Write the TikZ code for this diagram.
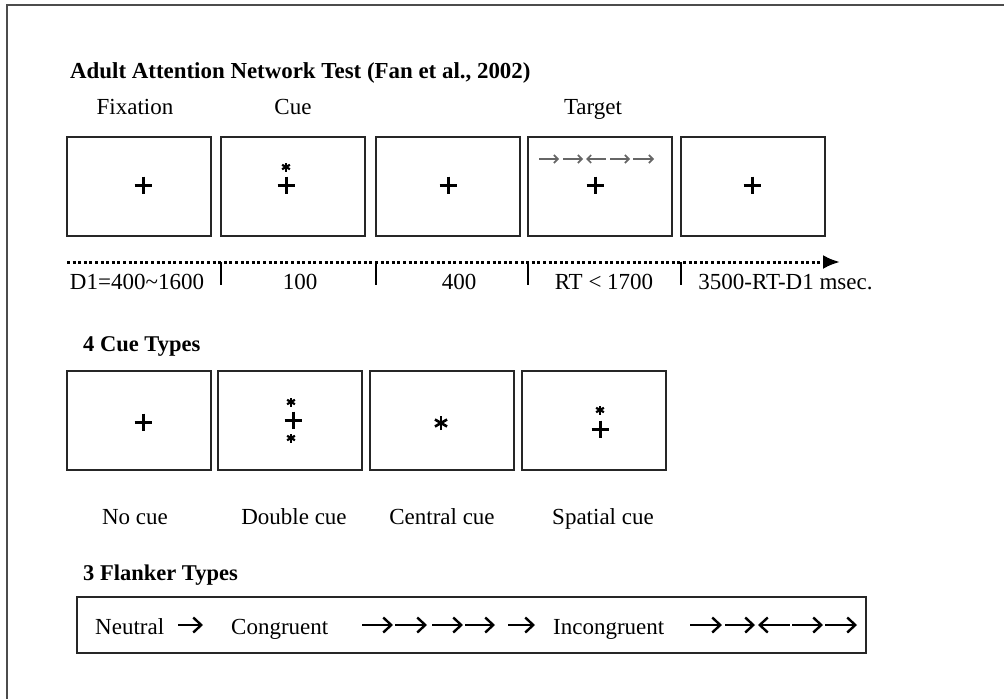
\documentclass[tikz,border=0pt]{standalone}
\usepackage{fontspec}
\setmainfont{Liberation Serif}
\usetikzlibrary{arrows.meta}

\begin{document}
\begin{tikzpicture}[x=1pt,y=-1pt,
    scr/.style={draw=black!85,line width=2.2pt,minimum width=144pt,minimum height=99pt,inner sep=0pt},
    lbl/.style={font=\fontsize{23}{27}\selectfont,inner sep=0pt,anchor=base},
    lblw/.style={font=\fontsize{23}{27}\selectfont,inner sep=0pt,anchor=base west},
    head/.style={font=\bfseries\fontsize{22.5}{27}\selectfont,inner sep=0pt,anchor=base west},
    fl/.style={line width=2.4pt,-{Straight Barb[length=8pt,width=15pt]}},
    sm/.style={black!60,line width=1.6pt,-{Straight Barb[length=4pt,width=8pt]}},
    fix/.pic={\draw[line width=3pt] (-8.5,0) -- (8.5,0) (0,-8.5) -- (0,8.5);},
    star/.pic={\foreach \t in {90,30,150} \draw[line width=2.2pt] (\t:4.5) -- (\t+180:4.5);},
    bigstar/.pic={\foreach \t in {90,30,150} \draw[line width=2.6pt] (\t:7) -- (\t+180:7);}]

  \useasboundingbox (0,0) rectangle (1004,699);
  \draw[black!70,line width=2.2pt] (1004,5) -- (7,5) -- (7,699);

  % sequence of one trial
  \node[head,font=\bfseries\fontsize{22.9}{27}\selectfont] (title) at (70,78) {Adult Attention Network Test (Fan et al., 2002)};
  \node[lbl] (fixlbl) at (135,114) {Fixation};
  \node[lbl] (cuelbl) at (293,114) {Cue};
  \node[lbl] (tgtlbl) at (593,114) {Target};

  \foreach \i/\x in {1/139,2/293,3/448,4/600,5/753}
    \node[scr] (a\i) at (\x,186.5) {};

  \pic at (143,185) {fix};
  \pic at (286,185) {fix};
  \pic at (286,167) {star};
  \pic at (448,185) {fix};
  \pic at (595,185) {fix};
  \pic at (752,185) {fix};
  \foreach \s/\e in {539/559,563/583,606/586,610/630,633/654}
    \draw[sm] (\s,159) -- (\e,159);

  % time line
  \coordinate (t0) at (67,262);
  \coordinate (t1) at (840,262);
  \draw[line width=3pt,dash pattern=on 3pt off 2.6pt,-{Latex[length=17pt,width=14pt]}] (t0) -- (t1);
  \foreach \x in {221,376,528,681}
    \draw[line width=2.2pt] (\x,262) -- (\x,285);

  \node[lbl] (d1) at (137,289) {D1=400\textasciitilde 1600};
  \node[lbl] (d2) at (300,289) {100};
  \node[lbl] (d3) at (459,289) {400};
  \node[lbl] (d4) at (604,289) {RT < 1700};
  \node[lbl] (d5) at (785.5,289) {3500-RT-D1 msec.};

  % cue types
  \node[head] (cuehead) at (83,351) {4 Cue Types};
  \foreach \i/\x in {1/139,2/290,3/442,4/594}
    \node[scr] (c\i) at (\x,420.5) {};

  \pic at (143,422) {fix};
  \pic at (291,402) {star};
  \pic at (293,420) {fix};
  \pic at (291,438) {star};
  \pic at (441,423) {bigstar};
  \pic at (600,410) {star};
  \pic at (600,429) {fix};

  \node[lbl] (nocue) at (135,524) {No cue};
  \node[lbl] (dblcue) at (294,524) {Double cue};
  \node[lbl] (cencue) at (442,524) {Central cue};
  \node[lbl] (spacue) at (603,524) {Spatial cue};

  % flanker types
  \node[head] (flkhead) at (83,580) {3 Flanker Types};
  \node[draw=black!85,line width=2.2pt,minimum width=789pt,minimum height=56pt,inner sep=0pt] (flk) at (471.5,625) {};

  \node[lblw] (neu) at (95,634) {Neutral};
  \node[lblw] (con) at (231,634) {Congruent};
  \node[lblw] (inc) at (553,634) {Incongruent};
  \foreach \s/\e in {178/203,362/393,395/427,432/463,465/495,508/535,690/722,725/755,790/758,792/823,825/857}
    \draw[fl] (\s,625) -- (\e,625);
\end{tikzpicture}
\end{document}
